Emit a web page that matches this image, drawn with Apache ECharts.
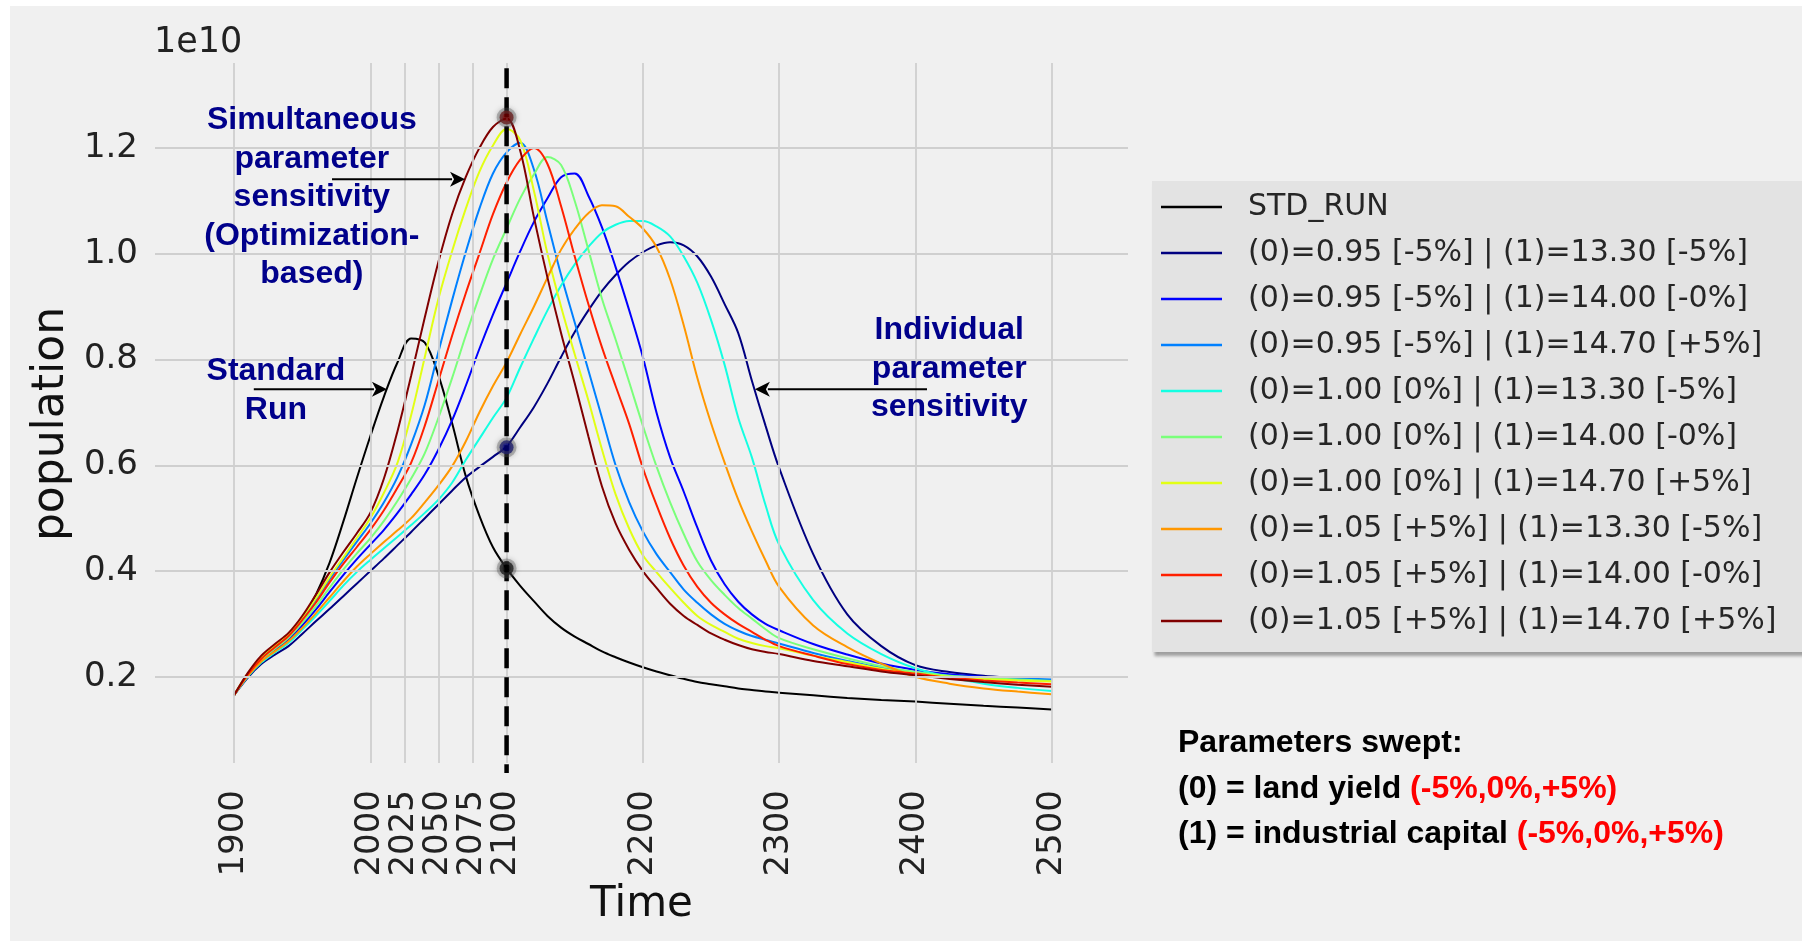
<!DOCTYPE html>
<html>
<head>
<meta charset="utf-8">
<script src="https://cdn.jsdelivr.net/npm/echarts@6/dist/echarts.min.js"></script>
<style>
html,body{margin:0;padding:0;background:#ffffff;}
#chart{width:1802px;height:941px;}
</style>
</head>
<body>
<div id="chart"></div>
<script>
// ---------------- DATA (population in units of 1e10) ----------------
const years = [1900,1910,1920,1930,1940,1950,1960,1970,1980,1990,2000,2010,2020,2030,2040,2050,2060,2070,2080,2090,2100,2110,2120,2130,2140,2150,2160,2170,2180,2190,2200,2210,2220,2230,2240,2250,2260,2270,2280,2290,2300,2325,2350,2375,2400,2425,2450,2475,2500];

const seriesNames = [
  'STD_RUN',
  '(0)=0.95 [-5%] | (1)=13.30 [-5%]',
  '(0)=0.95 [-5%] | (1)=14.00 [-0%]',
  '(0)=0.95 [-5%] | (1)=14.70 [+5%]',
  '(0)=1.00 [0%] | (1)=13.30 [-5%]',
  '(0)=1.00 [0%] | (1)=14.00 [-0%]',
  '(0)=1.00 [0%] | (1)=14.70 [+5%]',
  '(0)=1.05 [+5%] | (1)=13.30 [-5%]',
  '(0)=1.05 [+5%] | (1)=14.00 [-0%]',
  '(0)=1.05 [+5%] | (1)=14.70 [+5%]'
];

const popStdRun = [0.165,0.203,0.232,0.252,0.272,0.31,0.355,0.415,0.492,0.575,0.655,0.73,0.795,0.84,0.832,0.77,0.68,0.58,0.505,0.445,0.405,0.372,0.343,0.315,0.293,0.276,0.262,0.248,0.237,0.227,0.218,0.21,0.203,0.196,0.19,0.186,0.182,0.178,0.175,0.172,0.17,0.165,0.16,0.156,0.153,0.149,0.145,0.142,0.138];
const pop095_1330 = [0.165,0.198,0.224,0.242,0.258,0.281,0.305,0.328,0.352,0.376,0.40,0.424,0.449,0.474,0.5,0.526,0.552,0.577,0.597,0.616,0.636,0.672,0.71,0.755,0.805,0.852,0.893,0.93,0.96,0.985,1.003,1.016,1.022,1.016,0.995,0.957,0.905,0.85,0.76,0.675,0.595,0.432,0.318,0.258,0.222,0.209,0.202,0.197,0.192];
const pop095_1400 = [0.165,0.201,0.23,0.25,0.27,0.297,0.327,0.36,0.392,0.422,0.45,0.478,0.51,0.545,0.583,0.63,0.685,0.75,0.82,0.885,0.945,1.005,1.06,1.105,1.145,1.152,1.11,1.05,0.975,0.893,0.805,0.7,0.615,0.55,0.482,0.42,0.375,0.342,0.318,0.3,0.288,0.262,0.242,0.225,0.213,0.205,0.2,0.196,0.193];
const pop095_1470 = [0.165,0.205,0.236,0.258,0.28,0.31,0.345,0.384,0.42,0.455,0.49,0.53,0.578,0.64,0.715,0.815,0.912,1.003,1.085,1.152,1.192,1.21,1.16,1.06,0.96,0.87,0.78,0.69,0.6,0.53,0.475,0.432,0.398,0.365,0.34,0.318,0.3,0.287,0.277,0.27,0.263,0.245,0.23,0.217,0.208,0.202,0.199,0.197,0.195];
const pop100_1330 = [0.165,0.2,0.227,0.246,0.264,0.289,0.315,0.343,0.372,0.398,0.421,0.443,0.465,0.487,0.51,0.535,0.567,0.61,0.65,0.69,0.728,0.785,0.84,0.893,0.94,0.98,1.013,1.04,1.055,1.062,1.062,1.052,1.033,0.995,0.945,0.875,0.79,0.69,0.615,0.525,0.45,0.345,0.282,0.243,0.216,0.199,0.187,0.179,0.173];
const pop100_1400 = [0.165,0.203,0.232,0.253,0.274,0.302,0.333,0.368,0.402,0.433,0.462,0.495,0.533,0.575,0.623,0.69,0.765,0.845,0.92,0.99,1.048,1.105,1.15,1.183,1.168,1.1,1.008,0.915,0.838,0.757,0.675,0.598,0.53,0.47,0.418,0.383,0.355,0.33,0.31,0.29,0.273,0.252,0.235,0.22,0.209,0.202,0.198,0.195,0.192];
const pop100_1470 = [0.165,0.206,0.237,0.259,0.281,0.312,0.348,0.388,0.425,0.462,0.5,0.548,0.605,0.695,0.805,0.915,1.005,1.085,1.155,1.205,1.236,1.215,1.12,1.0,0.9,0.81,0.723,0.63,0.545,0.48,0.43,0.398,0.368,0.34,0.315,0.298,0.285,0.272,0.264,0.258,0.254,0.24,0.228,0.215,0.206,0.2,0.196,0.193,0.191];
const pop105_1330 = [0.165,0.201,0.229,0.248,0.267,0.292,0.32,0.35,0.38,0.408,0.432,0.455,0.477,0.5,0.53,0.562,0.598,0.645,0.7,0.75,0.795,0.848,0.9,0.955,1.008,1.047,1.077,1.092,1.09,1.07,1.048,1.013,0.952,0.865,0.765,0.68,0.605,0.535,0.475,0.42,0.37,0.297,0.256,0.225,0.2,0.187,0.178,0.172,0.167];
const pop105_1400 = [0.165,0.204,0.234,0.256,0.277,0.307,0.34,0.378,0.413,0.445,0.478,0.515,0.558,0.605,0.675,0.76,0.845,0.925,1.0,1.075,1.135,1.178,1.2,1.17,1.09,0.995,0.905,0.823,0.75,0.678,0.595,0.525,0.462,0.41,0.37,0.34,0.318,0.3,0.285,0.27,0.258,0.24,0.224,0.213,0.206,0.198,0.193,0.189,0.186];
const pop105_1470 = [0.165,0.207,0.24,0.262,0.283,0.315,0.355,0.397,0.435,0.471,0.51,0.575,0.665,0.77,0.88,0.985,1.075,1.145,1.2,1.24,1.256,1.195,1.07,0.955,0.85,0.755,0.655,0.56,0.49,0.44,0.4,0.368,0.338,0.315,0.298,0.282,0.27,0.26,0.252,0.247,0.243,0.23,0.22,0.21,0.203,0.196,0.19,0.185,0.181];

const allSeriesValues = [popStdRun, pop095_1330, pop095_1400, pop095_1470, pop100_1330, pop100_1400, pop100_1470, pop105_1330, pop105_1400, pop105_1470];
const seriesColors = ['#000000','#000080','#0000ff','#0080ff','#14ffe2','#7aff7a','#e2ff14','#ff9700','#ff2000','#800000'];

// highlighted points on the year-2100 line
const markerYears = [2100, 2100, 2100];
const markerValues = [1.258, 0.634, 0.405];
const markerColors = ['#7a0000', '#00007f', '#000000'];

// tick labels
const xTickValues = [1900, 2000, 2025, 2050, 2075, 2100, 2200, 2300, 2400, 2500];
const yTickValues = [0.2, 0.4, 0.6, 0.8, 1.0, 1.2];

// ---------------- CHART ----------------
const chart = echarts.init(document.getElementById('chart'), null, {renderer: 'canvas'});
const tickFont = 'DejaVu Sans';

const lineSeries = seriesNames.map((name, k) => ({
  name: name,
  type: 'line',
  data: years.map((y, i) => [y, allSeriesValues[k][i]]),
  showSymbol: false,
  symbol: 'none',
  smooth: 0.35,
  lineStyle: {width: 2, color: seriesColors[k]},
  itemStyle: {color: seriesColors[k]},
  emphasis: {disabled: true},
  silent: true,
  z: 2
}));

const gridSeries = {
  type: 'line',
  data: [],
  silent: true,
  z: 1,
  markLine: {
    silent: true,
    animation: false,
    symbol: ['none', 'none'],
    label: {show: false},
    emphasis: {disabled: true},
    lineStyle: {color: '#cfcfcf', width: 1.8, type: 'solid'},
    data: xTickValues.map(v => ({xAxis: v})).concat(yTickValues.map(v => ({yAxis: v})))
  }
};

const markerSeries = {
  type: 'scatter',
  data: markerYears.map((y, i) => ({value: [y, markerValues[i]], itemStyle: {color: markerColors[i]}})),
  symbolSize: 14,
  itemStyle: {borderColor: 'rgba(90,90,90,0.45)', borderWidth: 6, shadowBlur: 6, shadowColor: 'rgba(0,0,0,0.35)'},
  silent: true,
  z: 10
};

const option = {
  animation: false,
  backgroundColor: '#ffffff',
  grid: {left: 155, top: 63, width: 973, height: 700, containLabel: false},
  xAxis: {
    type: 'value', min: 1842, max: 2556,
    axisLine: {show: false}, axisTick: {show: false}, splitLine: {show: false},
    axisLabel: {customValues: xTickValues, formatter: v => String(v), rotate: 90, margin: 27, fontSize: 34, fontFamily: tickFont, color: '#222222'},
    name: 'Time', nameLocation: 'middle', nameGap: 108,
    nameTextStyle: {fontSize: 42, fontFamily: tickFont, color: '#111111'}
  },
  yAxis: {
    type: 'value', min: 0.0369, max: 1.361,
    axisLine: {show: false}, axisTick: {show: false}, splitLine: {show: false},
    axisLabel: {customValues: yTickValues, formatter: v => v.toFixed(1), margin: 17, fontSize: 34, fontFamily: tickFont, color: '#222222'}
  },
  legend: {
    orient: 'vertical', left: 1152, top: 181,
    icon: 'rect',
    itemWidth: 61, itemHeight: 2.5, itemGap: 14,
    padding: [10, 80, 15, 9],
    backgroundColor: '#e3e3e3',
    shadowColor: 'rgba(0,0,0,0.35)', shadowBlur: 3, shadowOffsetX: 2, shadowOffsetY: 4,
    selectedMode: false,
    textStyle: {fontSize: 30, fontFamily: tickFont, color: '#262626', lineHeight: 32, padding: [0, 0, 0, 21]},
    data: seriesNames
  },
  series: [gridSeries].concat(lineSeries, [markerSeries])
};
chart.setOption(option);

// ---------------- ANNOTATIONS (anchored in data coordinates) ----------------
const px = (p) => chart.convertToPixel({gridIndex: 0}, p);
const annColor = '#00008b';
const annFont = 'bold 32px "Liberation Sans", Arial, sans-serif';

const annTexts = [
  {text: 'Simultaneous\nparameter\nsensitivity\n(Optimization-\nbased)', at: [1957.1, 1.107]},
  {text: 'Standard\nRun', at: [1930.7, 0.741]},
  {text: 'Individual\nparameter\nsensitivity', at: [2424.8, 0.782]}
];
const annArrows = [
  {from: [1971.9, 1.141], to: [2069.5, 1.141]},
  {from: [1914.5, 0.744], to: [2012.2, 0.744]},
  {from: [2408.5, 0.744], to: [2282.2, 0.744]}
];

const graphics = [];
// figure background (white margin at top/left)
graphics.push({type: 'rect', shape: {x: 10, y: 6, width: 1802, height: 941}, style: {fill: '#f0f0f0'}, z: -100, silent: true});

// dashed vertical line at 2100
const dTop = px([2100, 1.351]);
const dBot = px([2100, 0.018]);
graphics.push({type: 'line', shape: {x1: dTop[0], y1: dTop[1], x2: dBot[0], y2: dBot[1]},
  style: {stroke: '#000000', lineWidth: 4.5, lineDash: [20, 9]}, z: 5, silent: true});

annTexts.forEach(t => {
  const p = px(t.at);
  graphics.push({type: 'text', x: p[0], y: p[1], z: 20, silent: true,
    style: {text: t.text, font: annFont, fill: annColor, align: 'center', verticalAlign: 'middle', lineHeight: 38.5}});
});

annArrows.forEach(a => {
  const s = px(a.from), e = px(a.to);
  const dir = e[0] > s[0] ? 1 : -1;
  const L = 15, W = 7.5;
  graphics.push({type: 'line', shape: {x1: s[0], y1: s[1], x2: e[0] - dir * (L - 2), y2: e[1]},
    style: {stroke: '#000000', lineWidth: 2}, z: 20, silent: true});
  graphics.push({type: 'polygon', shape: {points: [[e[0], e[1]], [e[0] - dir * L, e[1] - W], [e[0] - dir * (L - 4), e[1]], [e[0] - dir * L, e[1] + W]]},
    style: {fill: '#000000'}, z: 20, silent: true});
});

// y axis title
graphics.push({type: 'text', x: 52, y: 424, rotation: Math.PI / 2, z: 20, silent: true,
  style: {text: 'population', font: '44px "DejaVu Sans"', fill: '#111111', align: 'center', verticalAlign: 'middle'}});

// offset label of the y axis
graphics.push({type: 'text', x: 154, y: 43, z: 20, silent: true,
  style: {text: '1e10', font: '35px "DejaVu Sans"', fill: '#222222', align: 'left', verticalAlign: 'middle'}});

// parameter note
const noteFont = 'bold 32px "Liberation Sans", Arial, sans-serif';
const noteRich = {
  b: {font: noteFont, fill: '#000000'},
  r: {font: noteFont, fill: '#ff0000'}
};
[['{b|Parameters swept:}', 743], ['{b|(0) = land yield }{r|(-5%,0%,+5%)}', 789], ['{b|(1) = industrial capital }{r|(-5%,0%,+5%)}', 834]].forEach(l => {
  graphics.push({type: 'text', x: 1178, y: l[1], z: 20, silent: true,
    style: {text: l[0], rich: noteRich, font: noteFont, align: 'left', verticalAlign: 'middle'}});
});

chart.setOption({graphic: graphics});
</script>
</body>
</html>
